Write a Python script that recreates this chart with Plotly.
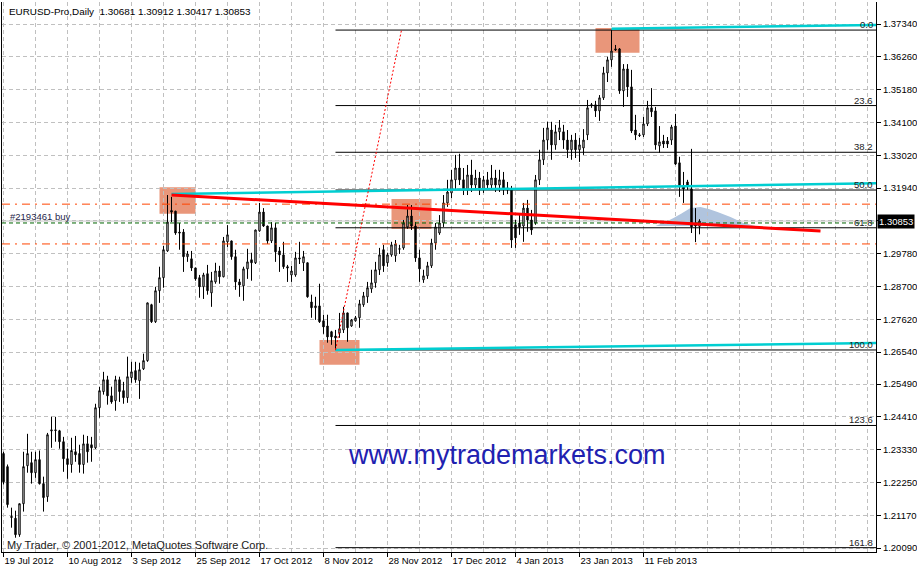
import plotly.graph_objects as go

# ---------------- data ----------------
tick_labels = ["19 Jul 2012", "10 Aug 2012", "3 Sep 2012", "25 Sep 2012", "17 Oct 2012",
               "8 Nov 2012", "28 Nov 2012", "17 Dec 2012", "4 Jan 2013", "23 Jan 2013",
               "11 Feb 2013"]
bars_per_label = 16

opens = [
    1.2320, 1.2277, 1.2113, 1.2107, 1.2053, 1.2155, 1.2280, 1.2290, 1.2257, 1.2300,
    1.2221, 1.2178, 1.2398, 1.2398, 1.2395, 1.2359, 1.2303, 1.2284, 1.2326, 1.2320,
    1.2284, 1.2352, 1.2349, 1.2339, 1.2471, 1.2524, 1.2563, 1.2510, 1.2494, 1.2563,
    1.2527, 1.2504, 1.2570, 1.2593, 1.2560, 1.2599, 1.2626, 1.2810, 1.2754, 1.2856,
    1.2899, 1.2987, 1.3120, 1.3118, 1.3049, 1.3049, 1.2968, 1.2961, 1.2931, 1.2899,
    1.2869, 1.2912, 1.2849, 1.2885, 1.2921, 1.2902, 1.3017, 1.3020, 1.2968, 1.2885,
    1.2872, 1.2928, 1.2958, 1.2948, 1.3053, 1.3115, 1.3069, 1.3020, 1.3063, 1.2987,
    1.2974, 1.2935, 1.2908, 1.2908, 1.2964, 1.2948, 1.2948, 1.2819, 1.2800, 1.2806,
    1.2757, 1.2740, 1.2721, 1.2707, 1.2717, 1.2727, 1.2783, 1.2740, 1.2757, 1.2767,
    1.2810, 1.2836, 1.2862, 1.2882, 1.2925, 1.2991, 1.2948, 1.2974, 1.2971, 1.2994,
    1.2997, 1.3066, 1.3102, 1.3069, 1.2964, 1.2892, 1.2905, 1.2938, 1.3013, 1.3046,
    1.3079, 1.3145, 1.3178, 1.3221, 1.3260, 1.3221, 1.3188, 1.3237, 1.3204, 1.3227,
    1.3188, 1.3221, 1.3204, 1.3227, 1.3204, 1.3221, 1.3194, 1.3188, 1.3073, 1.3079,
    1.3069, 1.3128, 1.3089, 1.3079, 1.3221, 1.3287, 1.3352, 1.3385, 1.3336, 1.3379,
    1.3379, 1.3352, 1.3320, 1.3352, 1.3320, 1.3326, 1.3369, 1.3468, 1.3468, 1.3448,
    1.3491, 1.3573, 1.3616, 1.3652, 1.3652, 1.3514, 1.3586, 1.3527, 1.3385, 1.3369,
    1.3369, 1.3405, 1.3458, 1.3448, 1.3333, 1.3349, 1.3349, 1.3352, 1.3398, 1.3277,
    1.3198, 1.3214, 1.3191, 1.3079, 1.30681]
highs = [
    1.2326, 1.2284, 1.2142, 1.2132, 1.2155, 1.2326, 1.2385, 1.2326, 1.2326, 1.2330,
    1.2244, 1.2388, 1.2441, 1.2441, 1.2398, 1.2375, 1.2336, 1.2372, 1.2378, 1.2349,
    1.2382, 1.2378, 1.2375, 1.2484, 1.2540, 1.2589, 1.2576, 1.2540, 1.2576, 1.2573,
    1.2556, 1.2639, 1.2622, 1.2622, 1.2619, 1.2649, 1.2817, 1.2813, 1.2869, 1.2935,
    1.3004, 1.3171, 1.3165, 1.3119, 1.3079, 1.3059, 1.2987, 1.2987, 1.2932, 1.2908,
    1.2915, 1.2941, 1.2918, 1.2948, 1.2938, 1.3033, 1.3072, 1.3021, 1.2991, 1.2895,
    1.2935, 1.2994, 1.2981, 1.3057, 1.3145, 1.3128, 1.3070, 1.3082, 1.3079, 1.3000,
    1.3017, 1.2941, 1.2938, 1.2984, 1.3017, 1.2987, 1.2949, 1.2843, 1.2836, 1.2879,
    1.2777, 1.2777, 1.2724, 1.2727, 1.2783, 1.2803, 1.2784, 1.2763, 1.2773, 1.2826,
    1.2852, 1.2885, 1.2925, 1.2951, 1.2997, 1.3007, 1.2981, 1.3017, 1.3023, 1.3007,
    1.3089, 1.3138, 1.3138, 1.3082, 1.2991, 1.2925, 1.2951, 1.3027, 1.3079, 1.3105,
    1.3171, 1.3221, 1.3254, 1.3303, 1.3307, 1.3260, 1.3270, 1.3287, 1.3254, 1.3247,
    1.3234, 1.3247, 1.3270, 1.3254, 1.3254, 1.3247, 1.3214, 1.3201, 1.3089, 1.3105,
    1.3145, 1.3155, 1.3122, 1.3237, 1.3320, 1.3392, 1.3412, 1.3412, 1.3402, 1.3418,
    1.3402, 1.3385, 1.3369, 1.3375, 1.3359, 1.3388, 1.3484, 1.3474, 1.3481, 1.3500,
    1.3593, 1.3626, 1.3714, 1.3665, 1.3655, 1.3602, 1.3602, 1.3583, 1.3435, 1.3375,
    1.3428, 1.3481, 1.3523, 1.3461, 1.3398, 1.3369, 1.3362, 1.3402, 1.3438, 1.3297,
    1.3247, 1.3221, 1.3323, 1.3128, 1.30912]
lows = [
    1.2218, 1.2142, 1.2076, 1.2043, 1.2046, 1.2129, 1.2257, 1.2221, 1.2240, 1.2218,
    1.2129, 1.2161, 1.2339, 1.2359, 1.2336, 1.2260, 1.2237, 1.2257, 1.2293, 1.2257,
    1.2254, 1.2290, 1.2293, 1.2335, 1.2438, 1.2514, 1.2481, 1.2484, 1.2461, 1.2490,
    1.2484, 1.2487, 1.2553, 1.2553, 1.2500, 1.2595, 1.2622, 1.2750, 1.2750, 1.2816,
    1.2866, 1.2984, 1.3082, 1.3040, 1.2991, 1.2918, 1.2951, 1.2921, 1.2889, 1.2833,
    1.2829, 1.2843, 1.2803, 1.2879, 1.2879, 1.2900, 1.3000, 1.2958, 1.2859, 1.2836,
    1.2823, 1.2895, 1.2889, 1.2944, 1.3050, 1.3066, 1.3010, 1.3013, 1.2951, 1.2918,
    1.2928, 1.2885, 1.2885, 1.2902, 1.2944, 1.2921, 1.2833, 1.2767, 1.2760, 1.2750,
    1.2714, 1.2685, 1.2678, 1.2661, 1.2701, 1.2717, 1.2688, 1.2737, 1.2754, 1.2734,
    1.2803, 1.2816, 1.2849, 1.2866, 1.2908, 1.2918, 1.2935, 1.2968, 1.2951, 1.2977,
    1.2991, 1.3060, 1.3056, 1.2951, 1.2885, 1.2882, 1.2895, 1.2931, 1.2991, 1.3040,
    1.3066, 1.3132, 1.3161, 1.3188, 1.3204, 1.3171, 1.3171, 1.3181, 1.3188, 1.3171,
    1.3178, 1.3188, 1.3194, 1.3181, 1.3181, 1.3171, 1.3174, 1.2997, 1.2997, 1.3040,
    1.3017, 1.3050, 1.3040, 1.3073, 1.3204, 1.3270, 1.3320, 1.3287, 1.3320, 1.3352,
    1.3323, 1.3293, 1.3287, 1.3293, 1.3280, 1.3303, 1.3352, 1.3458, 1.3428, 1.3415,
    1.3484, 1.3543, 1.3593, 1.3645, 1.3504, 1.3461, 1.3494, 1.3375, 1.3352, 1.3362,
    1.3362, 1.3398, 1.3428, 1.3320, 1.3310, 1.3326, 1.3326, 1.3336, 1.3270, 1.3165,
    1.3145, 1.3188, 1.3046, 1.3016, 1.30417]
closes = [
    1.2227, 1.2152, 1.2110, 1.2053, 1.2155, 1.2277, 1.2320, 1.2257, 1.2300, 1.2221,
    1.2175, 1.2382, 1.2395, 1.2396, 1.2359, 1.2303, 1.2284, 1.2330, 1.2316, 1.2284,
    1.2352, 1.2326, 1.2339, 1.2471, 1.2527, 1.2563, 1.2510, 1.2490, 1.2563, 1.2524,
    1.2504, 1.2573, 1.2589, 1.2563, 1.2596, 1.2626, 1.2816, 1.2754, 1.2856, 1.2899,
    1.2991, 1.3082, 1.3115, 1.3046, 1.3046, 1.2968, 1.2977, 1.2931, 1.2895, 1.2869,
    1.2908, 1.2856, 1.2889, 1.2921, 1.2902, 1.3020, 1.3040, 1.2968, 1.2885, 1.2875,
    1.2928, 1.2951, 1.2948, 1.3056, 1.3115, 1.3069, 1.3020, 1.3063, 1.2984, 1.2974,
    1.2935, 1.2931, 1.2921, 1.2964, 1.2961, 1.2968, 1.2836, 1.2800, 1.2806, 1.2754,
    1.2737, 1.2704, 1.2704, 1.2701, 1.2731, 1.2783, 1.2734, 1.2760, 1.2767, 1.2813,
    1.2839, 1.2866, 1.2882, 1.2925, 1.2974, 1.2938, 1.2974, 1.3007, 1.3010, 1.2993,
    1.3079, 1.3102, 1.3069, 1.2964, 1.2928, 1.2905, 1.2938, 1.3013, 1.3066, 1.3079,
    1.3145, 1.3181, 1.3221, 1.3260, 1.3221, 1.3188, 1.3237, 1.3204, 1.3227, 1.3188,
    1.3221, 1.3204, 1.3227, 1.3204, 1.3221, 1.3194, 1.3188, 1.3023, 1.3030, 1.3066,
    1.3128, 1.3089, 1.3056, 1.3221, 1.3287, 1.3352, 1.3392, 1.3336, 1.3379, 1.3392,
    1.3352, 1.3320, 1.3352, 1.3320, 1.3336, 1.3352, 1.3458, 1.3467, 1.3448, 1.3491,
    1.3573, 1.3616, 1.3645, 1.3649, 1.3514, 1.3586, 1.3527, 1.3382, 1.3369, 1.3367,
    1.3405, 1.3458, 1.3445, 1.3336, 1.3346, 1.3339, 1.3339, 1.3395, 1.3273, 1.3198,
    1.3191, 1.3201, 1.3066, 1.3069, 1.30853]

price_ticks = [1.37340, 1.36260, 1.35180, 1.34100, 1.33020, 1.31940, 1.30860, 1.29780,
               1.28700, 1.27620, 1.26540, 1.25490, 1.24410, 1.23330, 1.22250, 1.21170,
               1.20090]

# drawn objects (bar index / price)
fib_low_bar, fib_high_bar = 83, 152
fib_ratios = [0.0, 23.6, 38.2, 50.0, 61.8, 100.0, 123.6, 161.8]
channel_starts = [(152, 1.3718), (42, 1.3174), (83, 1.2661)]
channel_ends = [1.3731, 1.3210, 1.2684]
red_line = [(42, 1.3171), (204.25, 1.3053)]
dotted_line = [(83, 1.2661), (99.5, 1.3714)]
order_price, tp_price, sl_price = 1.3079, 1.3141, 1.3010
boxes = [(39, 48, 1.3197, 1.3109), (97, 107, 1.3158, 1.3059),
         (79, 89, 1.2694, 1.2612), (148, 159, 1.3721, 1.3639)]
bell_bars = [163, 165.5, 167.5, 169.5, 171.75, 174.25, 176.5, 178.5, 181.75, 185, 188]
bell_prices = [1.3069, 1.3082, 1.3095, 1.3110, 1.3128, 1.3132, 1.3124, 1.3115, 1.3099, 1.3079, 1.3069]

# ---------------- figure ----------------
FONT = "Liberation Sans, Arial, sans-serif"
n = len(opens)
bars = list(range(n))
x_min, x_max = -0.375, 218.125
y_min, y_max = 1.19960, 1.38064
bid = closes[-1]

fig = go.Figure()
fig.add_trace(go.Candlestick(
    x=bars, open=opens, high=highs, low=lows, close=closes,
    increasing=dict(line=dict(color="black", width=1), fillcolor="white"),
    decreasing=dict(line=dict(color="black", width=1), fillcolor="black"),
    whiskerwidth=0, showlegend=False, hoverinfo="skip"))

shapes = []
for b0, b1, p0, p1 in boxes:
    shapes.append(dict(type="rect", xref="x", yref="y", x0=b0, x1=b1, y0=p0, y1=p1,
                       fillcolor="#E9967A", line=dict(width=0), layer="below"))
path = "M " + " L ".join(f"{b},{p}" for b, p in zip(bell_bars, bell_prices)) + " Z"
shapes.append(dict(type="path", xref="x", yref="y", path=path, fillcolor="#B0C4DE",
                   line=dict(width=0), layer="below"))

# bid line
shapes.append(dict(type="line", xref="paper", yref="y", x0=0, x1=1, y0=bid, y1=bid,
                   line=dict(color="#C8C8C8", width=1), layer="below"))
# order, tp, sl
shapes.append(dict(type="line", xref="paper", yref="y", x0=0, x1=1, y0=order_price, y1=order_price,
                   line=dict(color="#006400", width=1, dash="4px,3px")))
for lv in (tp_price, sl_price):
    shapes.append(dict(type="line", xref="paper", yref="y", x0=0, x1=1, y0=lv, y1=lv,
                       line=dict(color="#FF4500", width=1, dash="8px,5px,2px,5px")))

# fibonacci
fib_hi = highs[fib_high_bar]
fib_lo = lows[fib_low_bar]
annotations = []
for r in fib_ratios:
    lv = fib_hi - r / 100.0 * (fib_hi - fib_lo)
    shapes.append(dict(type="line", xref="x", yref="y", x0=fib_low_bar, x1=x_max, y0=lv, y1=lv,
                       line=dict(color="black", width=1)))
    annotations.append(dict(xref="paper", yref="y", x=1, y=lv, xanchor="right", yanchor="bottom",
                            text=f"{r:.1f}", showarrow=False, xshift=-1, yshift=-2,
                            font=dict(family=FONT, size=9.5, color="#222222")))

# channel rays (cyan)
for (b0, p0), p1 in zip(channel_starts, channel_ends):
    shapes.append(dict(type="line", xref="x", yref="y", x0=b0, x1=x_max, y0=p0, y1=p1,
                       line=dict(color="#00CED1", width=2.5)))
# red trend line
shapes.append(dict(type="line", xref="x", yref="y", x0=red_line[0][0], x1=red_line[1][0],
                   y0=red_line[0][1], y1=red_line[1][1], line=dict(color="#FF0000", width=3)))
# dotted red
shapes.append(dict(type="line", xref="x", yref="y", x0=dotted_line[0][0], x1=dotted_line[1][0],
                   y0=dotted_line[0][1], y1=dotted_line[1][1],
                   line=dict(color="#FF0000", width=1, dash="2px,2px")))

annotations += [
    dict(xref="paper", yref="paper", x=0.006, y=0.997, xanchor="left", yanchor="top",
         text="EURUSD-Pro,Daily  1.30681 1.30912 1.30417 1.30853", showarrow=False,
         font=dict(family=FONT, size=9.9, color="black")),
    dict(xref="paper", yref="paper", x=0.003, y=0.013, xanchor="left", yanchor="middle",
         text="My Trader, © 2001-2012, MetaQuotes Software Corp.", showarrow=False,
         font=dict(family=FONT, size=11, color="#202020")),
    dict(xref="paper", yref="y", x=0.007, y=order_price, xanchor="left", yanchor="bottom",
         text="#2193461 buy", showarrow=False, yshift=-1,
         font=dict(family=FONT, size=9.5, color="#26264a")),
    dict(xref="paper", yref="paper", x=0.578, y=0.176, xanchor="center", yanchor="middle",
         text="www.mytrademarkets.com", showarrow=False,
         font=dict(family=FONT, size=27, color="#2121B0")),
    dict(xref="paper", yref="y", x=1, y=bid, xanchor="left", yanchor="middle",
         text=f"{bid:.5f}", showarrow=False, xshift=1, bgcolor="black",
         borderpad=1, font=dict(family=FONT, size=9.5, color="white")),
]

fig.update_layout(
    width=917, height=570,
    margin=dict(l=2, r=41, t=2, b=18, autoexpand=False),
    paper_bgcolor="white", plot_bgcolor="white",
    shapes=shapes, annotations=annotations,
    showlegend=False, boxgap=0.5,
    xaxis=dict(
        range=[x_min, x_max], rangeslider=dict(visible=False),
        tickmode="array",
        tickvals=[i * bars_per_label for i in range(len(tick_labels))],
        ticktext=tick_labels,
        ticks="outside", ticklen=4, tickcolor="black",
        ticklabelposition="outside right",
        tickfont=dict(family=FONT, size=9.5, color="black"),
        showline=True, linecolor="black", linewidth=1,
        showgrid=True, gridcolor="#C0C0C0", griddash="4px,3px", gridwidth=1,
        minor=dict(tickmode="linear", tick0=0, dtick=bars_per_label // 2, showgrid=True,
                   gridcolor="#C0C0C0", griddash="4px,3px", ticks=""),
        zeroline=False, fixedrange=True,
    ),
    yaxis=dict(
        range=[y_min, y_max], side="right",
        tickmode="array", tickvals=price_ticks,
        ticktext=["" if abs(v - bid) < 0.0005 else f"{v:.5f}" for v in price_ticks],
        ticks="outside", ticklen=4, tickcolor="black",
        tickfont=dict(family=FONT, size=9.5, color="black"),
        showline=True, linecolor="black", linewidth=1, mirror=True,
        showgrid=True, gridcolor="#C0C0C0", griddash="4px,3px", gridwidth=1,
        zeroline=False, fixedrange=True,
    ),
)

fig.write_html("out.html", config={"displayModeBar": False},
               post_script="document.body.style.margin='0';document.body.style.padding='0';")
